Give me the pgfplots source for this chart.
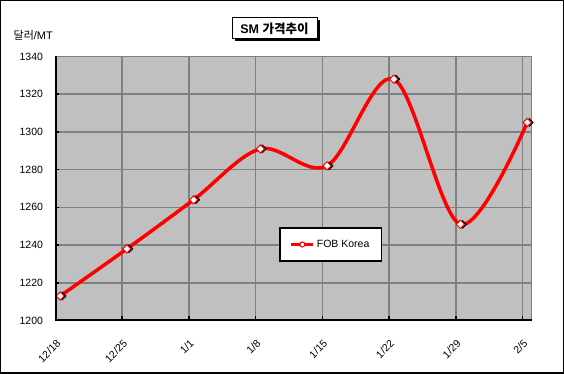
\documentclass[border=0pt]{standalone}
\usepackage{pgfplots}
\pgfplotsset{compat=1.18}
\usepackage{pgfplotstable}
\usepackage{fontspec}
\setmainfont{Liberation Sans}
\newfontfamily\cjk{Noto Sans CJK KR}
\definecolor{bgray}{RGB}{192,192,192}
\definecolor{ggray}{RGB}{128,128,128}
\pgfplotstableread{
x y
0.07 1213
1.07 1238
2.07 1264
3.07 1291
4.07 1282
5.07 1328
6.07 1251
7.07 1305
}\data
\begin{document}
\begin{tikzpicture}
\begin{axis}[
  name=ax,
  scale only axis, width=476pt, height=264pt,
  xmin=0, xmax=7.135, ymin=1200, ymax=1340,
  xtick={0,...,7},
  xticklabels={12/18,12/25,1/1,1/8,1/15,1/22,1/29,2/5},
  ytick={1200,1220,...,1340},
  grid=major, grid style={ggray, line width=1.5pt},
  axis background/.style={fill=bgray},
  axis line style={ggray, line width=1.5pt},
  xtick pos=bottom, ytick pos=left,
  tick style={black, line width=1.5pt}, major tick length=4pt, tick align=inside,
  /pgf/number format/.cd, 1000 sep={}, assume math mode=true, /pgfplots/.cd,
  yticklabel style={font=\fontsize{10.5}{12}\selectfont, xshift=-9pt},
  x tick label style={font=\fontsize{10.5}{12}\selectfont, rotate=45, anchor=east, xshift=-9.5pt, yshift=-17.3pt},
  legend style={at={(0.578,0.288)}, anchor=center, draw=black, line width=1.5pt, fill=white,
    font=\fontsize{10.5}{12}\selectfont, inner xsep=10pt, inner ysep=10pt},
  legend image code/.code={\draw[mark repeat=2,mark phase=2,#1] plot coordinates {(0pt,0pt) (11pt,0pt) (22pt,0pt)};},
]
\addplot[red, line width=3.5pt, smooth, tension=0.55, forget plot] table[x=x,y=y] {\data};
\addplot[only marks, mark=square*, mark size=2.9pt, mark options={rotate=45, fill=black, draw=black, xshift=1.5pt, yshift=-1.5pt}, forget plot] table[x=x,y=y] {\data};
\addplot[only marks, mark=square*, mark size=2.9pt, mark options={rotate=45, fill=white, draw=red, line width=1pt}, forget plot] table[x=x,y=y] {\data};
\addlegendimage{red, line width=3pt, mark=*, mark size=2.5pt, mark options={fill=white, draw=red, line width=1pt}}
\addlegendentry{FOB Korea}
\end{axis}
\draw[black, line width=2pt] (ax.north west) -- (ax.south west) -- (ax.south east);
\draw[line width=1.5pt] ([shift={(-54.75pt,-52.75pt)}]ax.south west) rectangle ([shift={(507.75pt,319.75pt)}]ax.south west);
\node[fill=black, minimum width=85pt, minimum height=21pt, inner sep=0pt] at ([shift={(221.5pt,289.5pt)}]ax.south west) {};
\node[draw=black, line width=1pt, fill=white, minimum width=85pt, minimum height=21pt, inner sep=0pt] at ([shift={(219pt,292pt)}]ax.south west) {\fontsize{12.5}{14}\selectfont\bfseries SM {\cjk 가격추이}};
\node[anchor=west, inner sep=0pt] at ([shift={(-42pt,285pt)}]ax.south west) {\fontsize{11}{12}\selectfont{\cjk 달러}/MT};
\end{tikzpicture}
\end{document}
